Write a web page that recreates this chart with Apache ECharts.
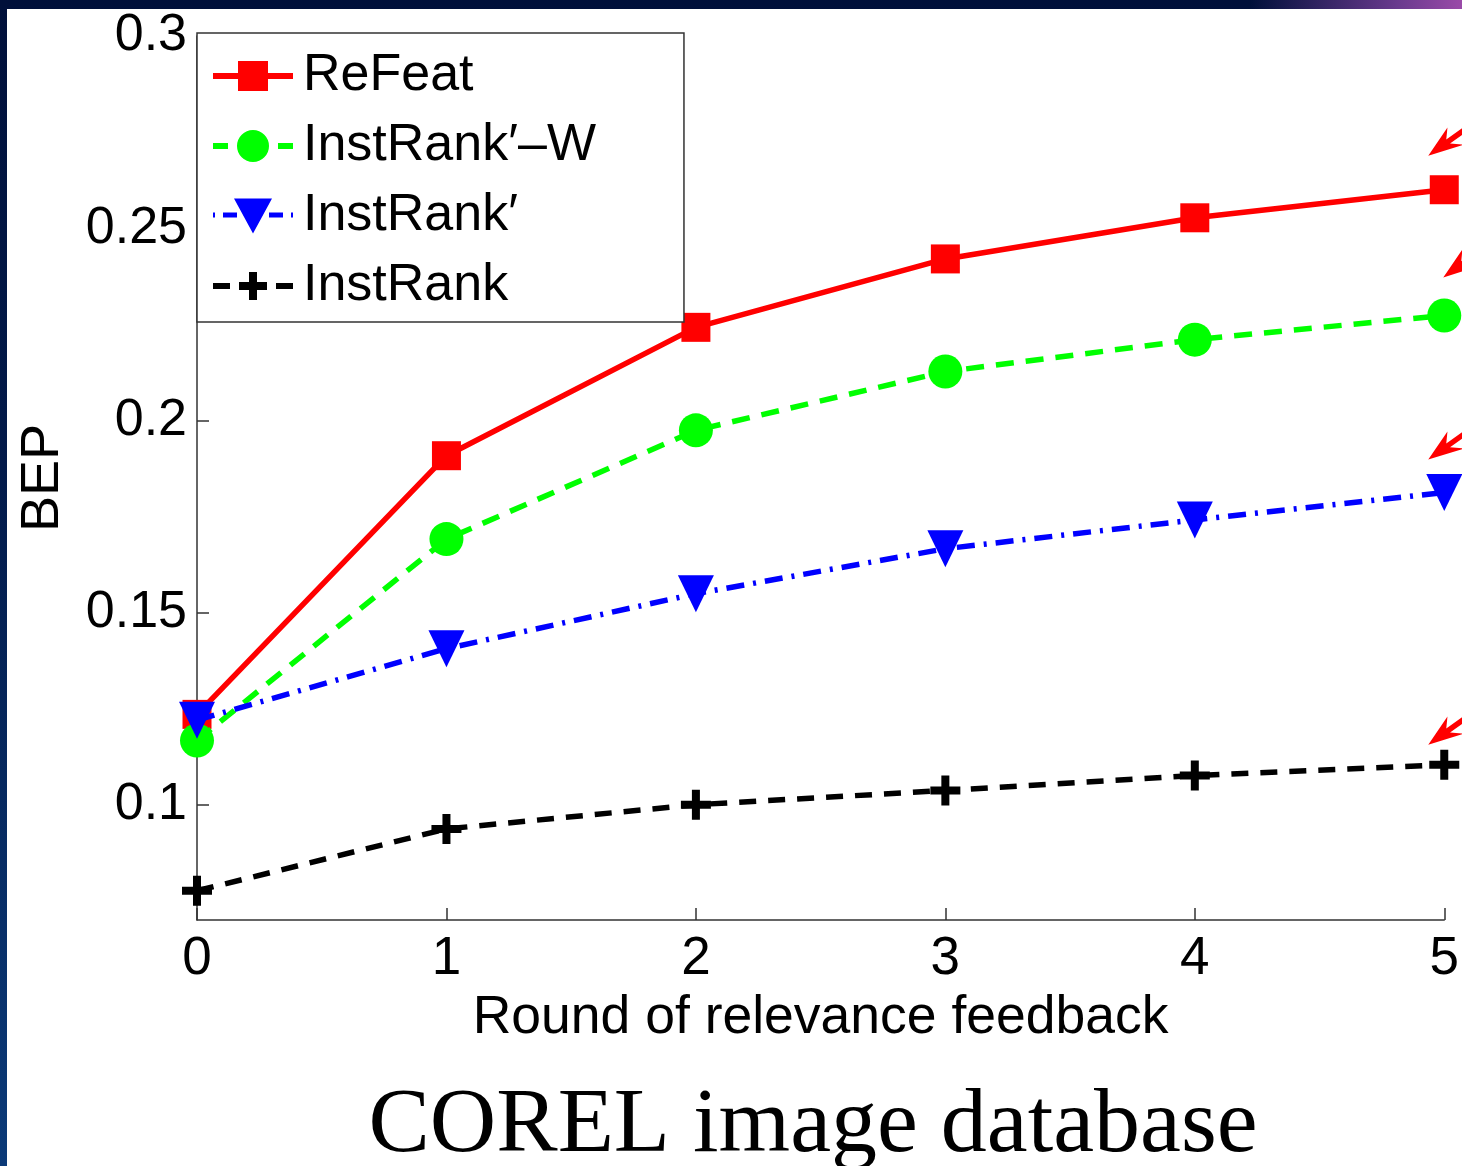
<!DOCTYPE html>
<html>
<head>
<meta charset="utf-8">
<script src="https://cdn.jsdelivr.net/npm/echarts@6/dist/echarts.min.js"></script>
<style>
  html, body { margin: 0; padding: 0; width: 1462px; height: 1166px; overflow: hidden;
    background: linear-gradient(to bottom, #00103a 0%, #021a4a 40%, #0b3a78 100%); }
  #topright { position: absolute; left: 1250px; top: 0; width: 212px; height: 9px;
    background: linear-gradient(to right, rgba(0,16,58,0) 0%, #6a3a8e 70%, #9a4aa8 100%); }
  #chart { position: absolute; left: 7px; top: 9px; width: 1455px; height: 1157px; background: #ffffff; }
</style>
</head>
<body>
<div id="topright"></div>
<div id="chart"></div>
<script>
const rounds = [0, 1, 2, 3, 4, 5];
const refeat = [0.1235, 0.1908, 0.2242, 0.2420, 0.2527, 0.2600];
const instRankW = [0.1167, 0.1691, 0.1974, 0.2127, 0.2210, 0.2273];
const instRankP = [0.1220, 0.1406, 0.1549, 0.1666, 0.1741, 0.1812];
const instRank = [0.0776, 0.0937, 0.1000, 0.1037, 0.1076, 0.1104];
const seriesNames = ['ReFeat', 'InstRank\u2032\u2013W', 'InstRank\u2032', 'InstRank'];
const xTickLabels = ['0', '1', '2', '3', '4', '5'];
const yTickLabels = ['0.1', '0.15', '0.2', '0.25', '0.3'];

const pts = arr => rounds.map((r, i) => [r, arr[i]]);
const FONT = 'Liberation Sans, Arial, sans-serif';
const ARROW = 'path://M0,53.7 L36,40.6 L21.8,39.3 L63.2,4.6 L59.4,0 L18,34.7 L19.2,20.6 Z';
const PLUS = 'path://M11,0 H19 V11 H30 V19 H19 V30 H11 V19 H0 V11 H11 Z';

// legend icons (line sample + marker), 80 px wide
const ICON_REFEAT = 'path://M0,12 H80 V18 H0 Z M25,0 H55 V30 H25 Z';
const ICON_W = 'path://M0,13 H15 V19 H0 Z M24,16 A16,16 0 1,1 56,16 A16,16 0 1,1 24,16 Z M65,13 H80 V19 H65 Z';
const ICON_P = 'path://M0,14 H2 V19 H0 Z M10,14 H24 V19 H10 Z M21,0 H59 L40,35 Z M56,14 H70 V19 H56 Z M78,14 H80 V19 H78 Z';
const ICON_I = 'path://M0,12 H17 V18 H0 Z M36,1 H44 V11 H54 V19 H44 V29 H36 V19 H26 V11 H36 Z M63,12 H80 V18 H63 Z';

function arrowMark(arr, offset) {
  return {
    symbol: ARROW,
    symbolSize: [63.2, 53.7],
    symbolKeepAspect: true,
    symbolOffset: offset,
    itemStyle: { color: '#ff0000' },
    label: { show: false },
    silent: true,
    z: 20,
    data: [{ coord: [rounds[rounds.length - 1], arr[arr.length - 1]] }]
  };
}

const chart = echarts.init(document.getElementById('chart'), null, { renderer: 'canvas' });
chart.setOption({
  animation: false,
  backgroundColor: '#ffffff',
  textStyle: { fontFamily: FONT },
  grid: { left: 190, right: 17, top: 27, bottom: 246, containLabel: false },
  legend: {
    orient: 'vertical',
    left: 190, top: 24,
    data: [
      { name: seriesNames[0], icon: ICON_REFEAT },
      { name: seriesNames[1], icon: ICON_W },
      { name: seriesNames[2], icon: ICON_P },
      { name: seriesNames[3], icon: ICON_I }
    ],
    symbolKeepAspect: true,
    itemWidth: 80, itemHeight: 36,
    itemGap: 10,
    padding: [13, 88, 6, 16],
    backgroundColor: '#ffffff',
    borderColor: '#333333', borderWidth: 1.5,
    textStyle: { fontFamily: FONT, fontSize: 52, color: '#000', lineHeight: 60, padding: [0, 0, 0, 5] },
    z: 30
  },
  xAxis: {
    type: 'value', min: 0, max: 5, interval: 1,
    name: 'Round of relevance feedback', nameLocation: 'middle', nameGap: 64,
    nameTextStyle: { fontFamily: FONT, fontSize: 53.5, color: '#000' },
    axisLine: { show: true, onZero: false, lineStyle: { color: '#333', width: 1.5 } },
    axisTick: { show: true, inside: true, length: 12, lineStyle: { color: '#333', width: 1.5 } },
    axisLabel: { fontFamily: FONT, fontSize: 53, color: '#000', margin: 13,
      formatter: v => xTickLabels[Math.round(v)] },
    splitLine: { show: false }
  },
  yAxis: {
    type: 'value', min: 0.07, max: 0.3, splitNumber: 5,
    name: 'BEP', nameLocation: 'middle', nameGap: 127, nameRotate: 90,
    nameTextStyle: { fontFamily: FONT, fontSize: 54, color: '#000' },
    axisLine: { show: true, lineStyle: { color: '#333', width: 1.5 } },
    axisTick: { show: true, inside: true, length: 12, lineStyle: { color: '#333', width: 1.5 } },
    axisLabel: { fontFamily: FONT, fontSize: 52, color: '#000', margin: 10, showMinLabel: false,
      padding: [6, 0, 0, 0],
      formatter: v => {
        const k = Math.round(v / 0.05);
        if (Math.abs(v / 0.05 - k) > 1e-6) return '';
        return yTickLabels[k - 2] || '';
      } },
    splitLine: { show: false }
  },
  series: [
    { name: seriesNames[0], type: 'line', data: pts(refeat),
      lineStyle: { color: '#ff0000', width: 5.5, type: 'solid' },
      itemStyle: { color: '#ff0000' }, symbol: 'rect', symbolSize: 29,
      markPoint: arrowMark(refeat, [15.6, -56.85]), z: 2 },
    { name: seriesNames[1], type: 'line', data: pts(instRankW),
      lineStyle: { color: '#00ff00', width: 5.5, type: [18, 12] },
      itemStyle: { color: '#00ff00' }, symbol: 'circle', symbolSize: 34,
      markPoint: arrowMark(instRankW, [30.6, -60.85]), z: 3 },
    { name: seriesNames[2], type: 'line', data: pts(instRankP),
      lineStyle: { color: '#0000ff', width: 5.5, type: [18, 9, 3, 9] },
      itemStyle: { color: '#0000ff' }, symbol: 'triangle', symbolRotate: 180, symbolSize: [36, 37],
      markPoint: arrowMark(instRankP, [15.6, -55.85]), z: 4 },
    { name: seriesNames[3], type: 'line', data: pts(instRank),
      lineStyle: { color: '#000000', width: 5.5, type: [17, 12] },
      itemStyle: { color: '#000000' }, symbol: PLUS, symbolSize: 30,
      markPoint: arrowMark(instRank, [15.6, -42.85]), z: 5 }
  ],
  graphic: [
    { type: 'text', x: 806, y: 1118, silent: true,
      style: { text: 'COREL image database', font: '92px "Liberation Serif", "DejaVu Serif", serif',
        fill: '#000', textAlign: 'center', textVerticalAlign: 'middle' } }
  ]
});
</script>
</body>
</html>
